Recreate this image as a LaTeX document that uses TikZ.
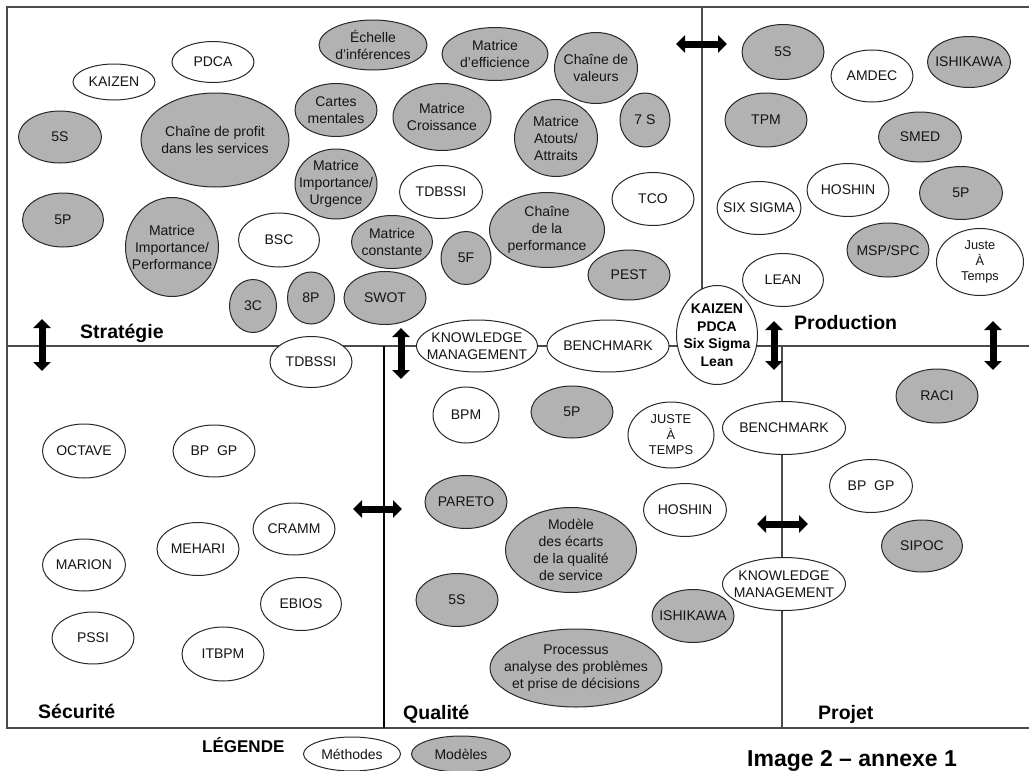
\documentclass[tikz,border=0pt]{standalone}
\usepackage{fontspec}
\setmainfont{Liberation Sans}
\usetikzlibrary{shapes.geometric,arrows.meta}
\definecolor{grayfill}{RGB}{178,178,178}
\definecolor{linegray}{RGB}{75,75,75}
\definecolor{edgegray}{RGB}{40,40,40}
\newcommand{\myE}[7]{%
  \node[#2, minimum width=#5pt, minimum height=#6pt] (#1) at (#3,#4) {};
  \node[txt] at (#1.center) {#7};}
\begin{document}
\begin{tikzpicture}[x=1pt,y=-1pt,
  el/.style={ellipse, draw=edgegray, line width=1pt, inner sep=0pt},
  meth/.style={el, fill=white},
  mod/.style={el, fill=grayfill},
  txt/.style={inner sep=0pt, align=center, text=black!92, font=\fontsize{14}{17}\selectfont},
  smalltxt/.style={inner sep=0pt, align=center, text=black!92, font=\fontsize{12.8}{15.5}\selectfont},
  boldtxt/.style={inner sep=0pt, align=center, text=black, font=\fontsize{14}{17.5}\bfseries\selectfont},
  title/.style={inner sep=0pt, anchor=base west, text=black, font=\fontsize{19.5}{22}\bfseries\selectfont},
  frame/.style={draw=linegray, line width=1.4pt},
  dbl/.style={line width=7pt, draw=black, {Triangle[width=17pt,length=9pt]}-{Triangle[width=17pt,length=9pt]}}
]
\useasboundingbox (0,0) rectangle (1029,771);
\fill[white] (0,0) rectangle (1029,771);

% frame and dividers
\draw[frame] (1029,7) -- (7,7) -- (7,728) -- (1029,728);
\draw[frame] (7,346) -- (1029,346);
\draw[frame] (702,7) -- (702,300);
\draw[frame] (782,346) -- (782,728);
\draw[draw=black, line width=2.2pt] (384,346) -- (384,728);

% Strategie
\myE{kaizenA}{meth}{114}{82}{82}{36}{KAIZEN}
\myE{pdcaA}{meth}{213}{62}{82}{41}{PDCA}
\myE{fivesA}{mod}{60}{137}{83}{52}{5S}
\myE{chprofit}{mod}{215}{140}{148}{94}{Chaîne de profit\\dans les services}
\myE{fivepA}{mod}{63}{220}{81}{54}{5P}
\myE{matimpperf}{mod}{172}{247}{93}{99}{Matrice\\Importance/\\Performance}
\myE{bsc}{meth}{279}{240}{81}{54}{BSC}
\myE{threec}{mod}{253}{306}{47}{53}{3C}
\myE{eightp}{mod}{311}{298}{47}{52}{8P}
\myE{echelle}{mod}{373}{45}{108}{50}{Échelle\\d’inférences}
\myE{mateff}{mod}{495}{54}{106}{53}{Matrice\\d’efficience}
\myE{chval}{mod}{596}{68}{83}{71}{Chaîne de\\valeurs}
\myE{cartes}{mod}{336}{110}{82}{53}{Cartes\\mentales}
\myE{matcroiss}{mod}{442}{117}{98}{67}{Matrice\\Croissance}
\myE{matatouts}{mod}{556}{138}{83}{77}{Matrice\\Atouts/\\Attraits}
\myE{sevens}{mod}{645}{120}{50}{54}{7 S}
\myE{matimpurg}{mod}{336}{184}{82}{70}{Matrice\\Importance/\\Urgence}
\myE{tdbssiA}{meth}{441}{192}{83}{53}{TDBSSI}
\myE{tco}{meth}{653}{199}{82}{53}{TCO}
\myE{chperf}{mod}{547}{230}{115}{75}{Chaîne\\de la\\performance}
\myE{matconst}{mod}{392}{242}{81}{53}{Matrice\\constante}
\myE{fivef}{mod}{466}{258}{50}{53}{5F}
\myE{pest}{mod}{629}{275}{82}{50}{PEST}
\myE{swot}{mod}{385}{298}{82}{53}{SWOT}
\myE{tdbssiB}{meth}{311}{362}{82}{51}{TDBSSI}

% middle shared
\myE{kmA}{meth}{477}{346}{121}{52}{KNOWLEDGE\\MANAGEMENT}
\myE{benchA}{meth}{608}{346}{122}{52}{BENCHMARK}
\node[meth, minimum width=81pt, minimum height=99pt] (kaizenB) at (717,335) {};
\node[boldtxt] at (kaizenB.center) {KAIZEN\\PDCA\\Six Sigma\\Lean};

% Production
\myE{fivesB}{mod}{783}{52}{82}{55}{5S}
\myE{amdec}{meth}{872}{76}{82}{52}{AMDEC}
\myE{ishiA}{mod}{969}{62}{83}{51}{ISHIKAWA}
\myE{tpm}{mod}{766}{120}{82}{54}{TPM}
\myE{smed}{mod}{920}{137}{83}{50}{SMED}
\myE{hoshinA}{meth}{848}{190}{82}{53}{HOSHIN}
\myE{fivepB}{mod}{961}{193}{83}{53}{5P}
\myE{sixsigma}{meth}{759}{208}{84}{53}{SIX SIGMA}
\myE{msp}{mod}{888}{250}{82}{54}{MSP/SPC}
\node[meth, minimum width=87pt, minimum height=67pt] (jatA) at (980,262) {};
\node[smalltxt] at (jatA.center) {Juste\\À\\Temps};
\myE{lean}{meth}{783}{280}{81}{53}{LEAN}

% Securite
\myE{octave}{meth}{84}{451}{83}{54}{OCTAVE}
\myE{bpgpA}{meth}{214}{451}{82}{52}{BP\ \ GP}
\myE{cramm}{meth}{294}{529}{82}{52}{CRAMM}
\myE{mehari}{meth}{198}{549}{82}{53}{MEHARI}
\myE{marion}{meth}{84}{565}{83}{52}{MARION}
\myE{ebios}{meth}{301}{604}{81}{53}{EBIOS}
\myE{pssi}{meth}{93}{638}{82}{52}{PSSI}
\myE{itbpm}{meth}{223}{654}{82}{54}{ITBPM}

% Qualite
\myE{bpm}{meth}{466}{415}{66}{56}{BPM}
\myE{fivepC}{mod}{572}{412}{82}{52}{5P}
\node[meth, minimum width=86pt, minimum height=66pt] (jatB) at (671,435) {};
\node[smalltxt] at (jatB.center) {JUSTE\\À\\TEMPS};
\myE{pareto}{mod}{466}{502}{82}{53}{PARETO}
\myE{hoshinB}{meth}{685}{510}{83}{53}{HOSHIN}
\myE{modele}{mod}{571}{550}{131}{85}{Modèle\\des écarts\\de la qualité\\de service}
\myE{fivesC}{mod}{457}{600}{82}{53}{5S}
\myE{ishiB}{mod}{693}{616}{82}{53}{ISHIKAWA}
\myE{processus}{mod}{576}{668}{172}{78}{Processus\\analyse des problèmes\\et prise de décisions}

% Projet
\myE{benchB}{meth}{784}{428}{123}{53}{BENCHMARK}
\myE{kmB}{meth}{784}{584}{123}{53}{KNOWLEDGE\\MANAGEMENT}
\myE{raci}{mod}{937}{396}{82}{54}{RACI}
\myE{bpgpB}{meth}{871}{486}{83}{53}{BP\ \ GP}
\myE{sipoc}{mod}{922}{546}{81}{52}{SIPOC}

% legend
\myE{legmeth}{meth}{352}{754}{97}{34}{Méthodes}
\myE{legmod}{mod}{461}{754}{99}{36}{Modèles}

% titles
\node[title] (tstrat) at (80,338) {Stratégie};
\node[title] (tprod) at (794,329) {Production};
\node[title] (tsecu) at (38,718) {Sécurité};
\node[title] (tqual) at (403,719) {Qualité};
\node[title] (tproj) at (818,719) {Projet};
\node[title, font=\fontsize{17}{20}\bfseries\selectfont] (tleg) at (202,752) {LÉGENDE};
\node[title, font=\fontsize{23}{26}\bfseries\selectfont] (timg) at (747,766) {Image 2 – annexe 1};

% double arrows
\coordinate (a1s) at (42,319);  \coordinate (a1e) at (42,371);
\coordinate (a2s) at (401,328); \coordinate (a2e) at (401,379);
\coordinate (a3s) at (676,44);  \coordinate (a3e) at (727,44);
\coordinate (a4s) at (774,321); \coordinate (a4e) at (774,370);
\coordinate (a5s) at (993,321); \coordinate (a5e) at (993,370);
\coordinate (a6s) at (353,509); \coordinate (a6e) at (402,509);
\coordinate (a7s) at (757,524); \coordinate (a7e) at (808,524);
\foreach \i in {1,...,7} {\draw[dbl] (a\i s) -- (a\i e);}
\end{tikzpicture}
\end{document}
